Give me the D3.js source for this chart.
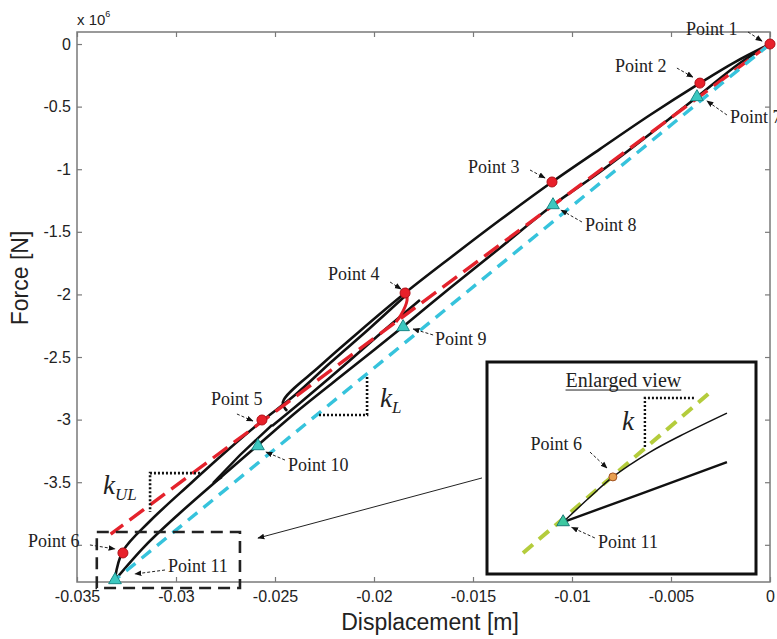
<!DOCTYPE html>
<html>
<head>
<meta charset="utf-8">
<script src="https://d3js.org/d3.v7.min.js"></script>
<style>
  html, body { margin: 0; padding: 0; background: #fff; }
  svg { display: block; }
</style>
</head>
<body>
<div id="chart"></div>
<script>
// displacement in m, force in 1e6 N
const xTicks = [-0.035, -0.03, -0.025, -0.02, -0.015, -0.01, -0.005, 0];
const xTickLabels = ["-0.035", "-0.03", "-0.025", "-0.02", "-0.015", "-0.01", "-0.005", "0"];
const yTicks = [0, -0.5, -1, -1.5, -2, -2.5, -3, -3.5, -4];
const yTickLabels = ["0", "-0.5", "-1", "-1.5", "-2", "-2.5", "-3", "-3.5", ""];

// black hysteresis branches
const upperBranch = [[0, 0], [-0.00177, -0.144], [-0.00354, -0.312], [-0.00606, -0.567], [-0.00859, -0.839],
  [-0.01101, -1.102], [-0.01364, -1.406], [-0.01616, -1.709], [-0.01843, -1.989], [-0.02071, -2.292],
  [-0.02273, -2.572], [-0.0246, -2.859], [-0.02439, -2.931]];
const lowerBranch = [[0, 0], [-0.001515, -0.152], [-0.003687, -0.423], [-0.00606, -0.719], [-0.00859, -1.022],
  [-0.01096, -1.286], [-0.01364, -1.629], [-0.01616, -1.949], [-0.01843, -2.244], [-0.02121, -2.596],
  [-0.02374, -2.915], [-0.02586, -3.203], [-0.02778, -3.466], [-0.0298, -3.746], [-0.03157, -4.01], [-0.03308, -4.281]];
const reloadBranch = [[-0.01843, -2.013], [-0.0202, -2.268], [-0.02222, -2.548], [-0.02399, -2.804], [-0.02566, -3.011],
  [-0.02727, -3.227], [-0.02929, -3.514], [-0.03131, -3.81], [-0.03268, -4.05], [-0.03308, -4.265]];
const innerBranch = [[-0.01768, -2.045], [-0.0197, -2.316], [-0.02172, -2.596], [-0.02374, -2.867], [-0.02515, -3.051]];
const hookBranch = [[-0.02515, -3.043], [-0.02677, -3.283], [-0.02813, -3.506], [-0.02768, -3.458]];
const redSegment = [[-0.01843, -1.949], [-0.01833, -2.045], [-0.01864, -2.165], [-0.01889, -2.22]];

// stiffness lines
const unloadLine = [[0, 0], [-0.0333, -3.914]];
const loadLine = [[0, 0], [-0.03308, -4.281]];

// marked points
const redPoints = [
  { name: "Point 1", x: 0, y: 0 },
  { name: "Point 2", x: -0.00354, y: -0.312 },
  { name: "Point 3", x: -0.01101, y: -1.102 },
  { name: "Point 4", x: -0.01843, y: -1.989 },
  { name: "Point 5", x: -0.02566, y: -3.003 },
  { name: "Point 6", x: -0.03268, y: -4.065 }
];
const cyanPoints = [
  { name: "Point 7", x: -0.00369, y: -0.423 },
  { name: "Point 8", x: -0.01096, y: -1.286 },
  { name: "Point 9", x: -0.01853, y: -2.26 },
  { name: "Point 10", x: -0.02586, y: -3.211 },
  { name: "Point 11", x: -0.03308, y: -4.281 }
];

// label layout: text offset and arrow offsets (px) from the marker
const labelLayout = {
  "Point 1": [-84, -9, -22, -12, -8, -3],
  "Point 2": [-85, -11, -23, -15, -7, -6],
  "Point 3": [-84, -9, -22, -12, -7, -4],
  "Point 4": [-77, -13, -15, -11, -4, -4],
  "Point 5": [-51, -15, -25, -6, -9, 1],
  "Point 6": [-95, -6, -33, -8, -8, -4],
  "Point 7": [33, 26, 30, 18, 10, 4],
  "Point 8": [32, 26, 29, 17, 8, 5],
  "Point 9": [32, 18, 30, 8, 10, 2],
  "Point 10": [30, 25, 27, 14, 8, 6],
  "Point 11": [53, -8, 50, -10, 20, -6]
};

// stiffness triangles
const kLTriangle = [[-0.02035, -2.66], [-0.02035, -2.963], [-0.02283, -2.963]];
const kULTriangle = [[-0.02879, -3.427], [-0.03131, -3.427], [-0.03131, -3.738]];
const kLText = [-0.0197, -2.899];
const kULText = [-0.03369, -3.594];
const zoomBox = [[-0.034, -3.898], [-0.02677, -4.345]];
const zoomArrow = [[-0.014545, -3.466], [-0.025859, -3.946]];

// enlarged view, inset units 0..100
const insetGuide = [[13.4, 9.9], [84.0, 86.8]];
const insetUpper = [[28.3, 24.5], [38.3, 36.3], [46.8, 45.8], [60.6, 57.5], [71.7, 65.1], [89.2, 75.9]];
const insetLower = [[28.3, 24.5], [56.9, 37.7], [89.2, 52.8]];
const insetP6 = [46.8, 45.8];
const insetP11 = [28.3, 24.5];
const insetK = [[58.7, 59.9], [58.7, 83.0], [77.3, 83.0]];

const width = 777, height = 639;
const x = d3.scaleLinear().domain([-0.035, 0]).range([77, 770]);
const y = d3.scaleLinear().domain([0.096, -4.297]).range([32, 582]);
const ix = d3.scaleLinear().domain([0, 100]).range([487, 756]);
const iy = d3.scaleLinear().domain([0, 100]).range([574, 362]);

const serif = "'Liberation Serif', 'Times New Roman', serif";
const sans = "'Liberation Sans', Arial, sans-serif";

const svg = d3.select("#chart").append("svg")
  .attr("width", width).attr("height", height)
  .attr("viewBox", [0, 0, width, height]);

svg.append("rect").attr("width", width).attr("height", height).attr("fill", "#fff");

const defs = svg.append("defs");
defs.append("marker")
  .attr("id", "head")
  .attr("viewBox", "0 0 10 10")
  .attr("refX", 9).attr("refY", 5)
  .attr("markerWidth", 7).attr("markerHeight", 7)
  .attr("markerUnits", "userSpaceOnUse")
  .attr("orient", "auto")
  .append("path").attr("d", "M0,1 L10,5 L0,9 z").attr("fill", "#111");

// axes (MATLAB style, ticks inward on all sides)
const axisColor = "#7a7a7a";
const styleAxis = g => {
  g.select(".domain").remove();
  g.selectAll(".tick line").attr("stroke", axisColor).attr("stroke-width", 1.2);
  g.selectAll(".tick text").attr("fill", "#222").style("font-family", sans).style("font-size", "16px");
};

svg.append("g").attr("transform", `translate(0,${y.range()[1]})`)
  .call(d3.axisBottom(x).tickValues(xTicks).tickSize(-5).tickPadding(9)
    .tickFormat((d, i) => xTickLabels[i]))
  .call(styleAxis);
svg.append("g").attr("transform", `translate(0,${y.range()[0]})`)
  .call(d3.axisTop(x).tickValues(xTicks).tickSize(-5).tickFormat(""))
  .call(styleAxis);
svg.append("g").attr("transform", `translate(${x.range()[0]},0)`)
  .call(d3.axisLeft(y).tickValues(yTicks).tickSize(-5).tickPadding(6)
    .tickFormat((d, i) => yTickLabels[i]))
  .call(styleAxis);
svg.append("g").attr("transform", `translate(${x.range()[1]},0)`)
  .call(d3.axisRight(y).tickValues(yTicks).tickSize(-5).tickFormat(""))
  .call(styleAxis);

svg.append("rect")
  .attr("x", x.range()[0]).attr("y", y.range()[0])
  .attr("width", x.range()[1] - x.range()[0]).attr("height", y.range()[1] - y.range()[0])
  .attr("fill", "none").attr("stroke", axisColor).attr("stroke-width", 1.5);

// exponent and axis titles
const expo = svg.append("text").attr("x", 77).attr("y", 25)
  .style("font-family", sans).style("font-size", "15px").attr("fill", "#222");
expo.append("tspan").text("x 10");
expo.append("tspan").attr("dy", -8).style("font-size", "9px").text("6");

svg.append("text").attr("x", 430).attr("y", 630).attr("text-anchor", "middle")
  .style("font-family", sans).style("font-size", "23px").attr("fill", "#222")
  .text("Displacement [m]");
svg.append("text").attr("transform", "translate(28,278) rotate(-90)").attr("text-anchor", "middle")
  .style("font-family", sans).style("font-size", "23px").attr("fill", "#222")
  .text("Force [N]");

const line = d3.line().x(d => x(d[0])).y(d => y(d[1])).curve(d3.curveCatmullRom);
const straight = d3.line().x(d => x(d[0])).y(d => y(d[1]));

// black branches
[upperBranch, lowerBranch, reloadBranch, innerBranch].forEach(b =>
  svg.append("path").attr("d", line(b)).attr("fill", "none")
    .attr("stroke", "#111").attr("stroke-width", 2.6).attr("stroke-linejoin", "round"));
svg.append("path").attr("d", straight(hookBranch)).attr("fill", "none")
  .attr("stroke", "#111").attr("stroke-width", 2.4);
svg.append("path").attr("d", line(redSegment)).attr("fill", "none")
  .attr("stroke", "#e0202a").attr("stroke-width", 3);

// stiffness lines
svg.append("path").attr("d", straight(unloadLine)).attr("fill", "none")
  .attr("stroke", "#e4222c").attr("stroke-width", 3.4).attr("stroke-dasharray", "18,8");
svg.append("path").attr("d", straight(loadLine)).attr("fill", "none")
  .attr("stroke", "#36c3dc").attr("stroke-width", 3.4).attr("stroke-dasharray", "12,8");

// dotted stiffness triangles
[kLTriangle, kULTriangle].forEach(t =>
  svg.append("path").attr("d", straight(t)).attr("fill", "none")
    .attr("stroke", "#111").attr("stroke-width", 2.6).attr("stroke-dasharray", "2,2"));

const kLabel = (pos, sub) => {
  const t = svg.append("text").attr("x", x(pos[0])).attr("y", y(pos[1]))
    .style("font-family", serif).style("font-style", "italic").style("font-size", "27px").attr("fill", "#222");
  t.append("tspan").text("k");
  t.append("tspan").attr("dy", 6).style("font-size", "17px").text(sub);
};
kLabel(kLText, "L");
kLabel(kULText, "UL");

// zoom box and arrow to inset
svg.append("rect")
  .attr("x", x(zoomBox[0][0])).attr("y", y(zoomBox[0][1]))
  .attr("width", x(zoomBox[1][0]) - x(zoomBox[0][0]))
  .attr("height", y(zoomBox[1][1]) - y(zoomBox[0][1]))
  .attr("fill", "none").attr("stroke", "#222").attr("stroke-width", 2.6).attr("stroke-dasharray", "12,7");
svg.append("line")
  .attr("x1", x(zoomArrow[0][0])).attr("y1", y(zoomArrow[0][1]))
  .attr("x2", x(zoomArrow[1][0])).attr("y2", y(zoomArrow[1][1]))
  .attr("stroke", "#222").attr("stroke-width", 1).attr("marker-end", "url(#head)");

// markers
svg.selectAll(".red-pt").data(redPoints).join("circle").attr("class", "red-pt")
  .attr("cx", d => x(d.x)).attr("cy", d => y(d.y)).attr("r", 5)
  .attr("fill", "#e8202a").attr("stroke", "#b01018").attr("stroke-width", 1);
const tri = d3.symbol().type(d3.symbolTriangle).size(70);
svg.selectAll(".cyan-pt").data(cyanPoints).join("path").attr("class", "cyan-pt")
  .attr("transform", d => `translate(${x(d.x)},${y(d.y)})`).attr("d", tri)
  .attr("fill", "#3cc8c0").attr("stroke", "#1a8a88").attr("stroke-width", 1);

// point labels
const allPoints = redPoints.concat(cyanPoints);
svg.selectAll(".pt-label").data(allPoints).join("text").attr("class", "pt-label")
  .attr("x", d => x(d.x) + labelLayout[d.name][0])
  .attr("y", d => y(d.y) + labelLayout[d.name][1])
  .style("font-family", serif).style("font-size", "18px").attr("fill", "#222")
  .text(d => d.name);
svg.selectAll(".pt-arrow").data(allPoints).join("line").attr("class", "pt-arrow")
  .attr("x1", d => x(d.x) + labelLayout[d.name][2]).attr("y1", d => y(d.y) + labelLayout[d.name][3])
  .attr("x2", d => x(d.x) + labelLayout[d.name][4]).attr("y2", d => y(d.y) + labelLayout[d.name][5])
  .attr("stroke", "#222").attr("stroke-width", 1).attr("stroke-dasharray", "3,2")
  .attr("marker-end", "url(#head)");

// inset: enlarged view
const inset = svg.append("g");
inset.append("rect")
  .attr("x", ix(0)).attr("y", iy(100)).attr("width", ix(100) - ix(0)).attr("height", iy(0) - iy(100))
  .attr("fill", "#fff").attr("stroke", "#111").attr("stroke-width", 3);
const iline = d3.line().x(d => ix(d[0])).y(d => iy(d[1]));
inset.append("path").attr("d", iline(insetGuide)).attr("fill", "none")
  .attr("stroke", "#b4cc3c").attr("stroke-width", 4).attr("stroke-dasharray", "13,8");
inset.append("path").attr("d", iline.curve(d3.curveCatmullRom)(insetUpper)).attr("fill", "none")
  .attr("stroke", "#111").attr("stroke-width", 1.5);
inset.append("path").attr("d", iline.curve(d3.curveLinear)(insetLower)).attr("fill", "none")
  .attr("stroke", "#111").attr("stroke-width", 2.4);
inset.append("path").attr("d", iline(insetK)).attr("fill", "none")
  .attr("stroke", "#111").attr("stroke-width", 2.4).attr("stroke-dasharray", "2,2");
inset.append("circle").attr("cx", ix(insetP6[0])).attr("cy", iy(insetP6[1])).attr("r", 4)
  .attr("fill", "#e8a050").attr("stroke", "#a05020").attr("stroke-width", 1);
inset.append("path").attr("transform", `translate(${ix(insetP11[0])},${iy(insetP11[1])})`)
  .attr("d", tri).attr("fill", "#3cc8a0").attr("stroke", "#1a7a78").attr("stroke-width", 1);

const title = inset.append("text").attr("x", ix(50.7)).attr("y", iy(88.2)).attr("text-anchor", "middle")
  .style("font-family", serif).style("font-size", "20px").attr("fill", "#222").text("Enlarged view");
const tw = title.node().getComputedTextLength();
inset.append("line").attr("x1", ix(50.7) - tw / 2).attr("x2", ix(50.7) + tw / 2)
  .attr("y1", iy(88.2) + 3).attr("y2", iy(88.2) + 3).attr("stroke", "#222").attr("stroke-width", 1);

inset.append("text").attr("x", ix(50.2)).attr("y", iy(68)).style("font-family", serif)
  .style("font-style", "italic").style("font-size", "27px").attr("fill", "#222").text("k");
inset.append("text").attr("x", ix(16.2)).attr("y", iy(58.5)).style("font-family", serif)
  .style("font-size", "18px").attr("fill", "#222").text("Point 6");
inset.append("text").attr("x", ix(41.3)).attr("y", iy(12.3)).style("font-family", serif)
  .style("font-size", "18px").attr("fill", "#222").text("Point 11");
inset.append("line").attr("x1", ix(38.3)).attr("y1", iy(57.5)).attr("x2", ix(44.6)).attr("y2", iy(50))
  .attr("stroke", "#222").attr("stroke-width", 1).attr("stroke-dasharray", "3,2").attr("marker-end", "url(#head)");
inset.append("line").attr("x1", ix(40.1)).attr("y1", iy(17)).attr("x2", ix(31.5)).attr("y2", iy(22))
  .attr("stroke", "#222").attr("stroke-width", 1).attr("stroke-dasharray", "3,2").attr("marker-end", "url(#head)");
</script>
</body>
</html>
